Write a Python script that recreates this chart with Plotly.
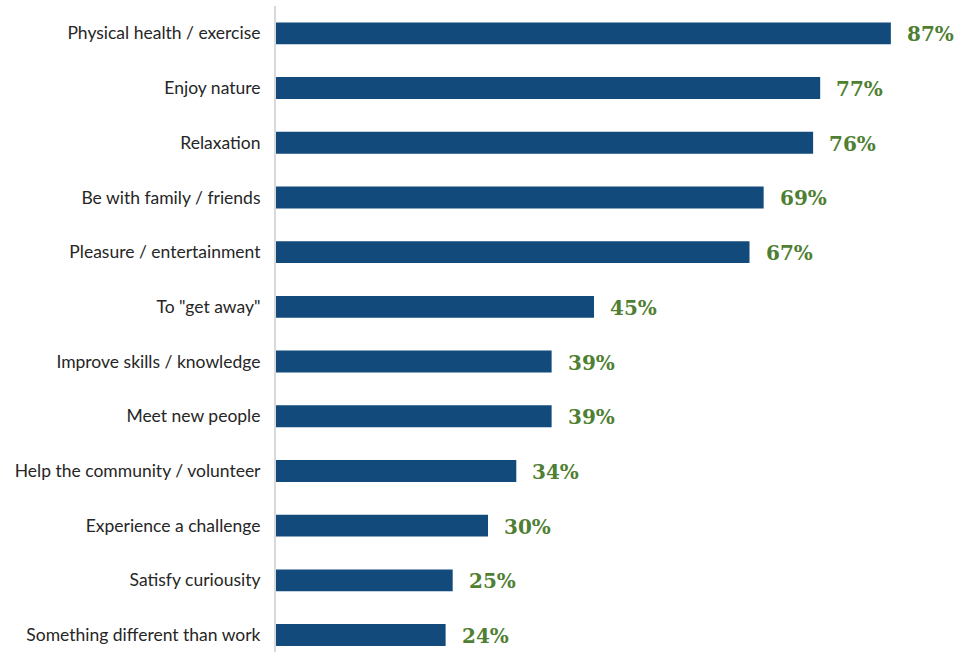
import plotly.graph_objects as go

# Reasons for participating, share of respondents (%)
categories = [
    "Physical health / exercise",
    "Enjoy nature",
    "Relaxation",
    "Be with family / friends",
    "Pleasure / entertainment",
    'To "get away"',
    "Improve skills / knowledge",
    "Meet new people",
    "Help the community / volunteer",
    "Experience a challenge",
    "Satisfy curiousity",
    "Something different than work",
]
values = [87, 77, 76, 69, 67, 45, 39, 39, 34, 30, 25, 24]
value_labels = [f"{v}%" for v in values]

BAR_COLOR = "#114A7B"
LABEL_COLOR = "#4F7F33"

fig = go.Figure(
    go.Bar(
        x=values,
        y=categories,
        orientation="h",
        marker=dict(color=BAR_COLOR, line=dict(width=0)),
        width=0.4,
        hoverinfo="skip",
    )
)

for cat, v, lab in zip(categories, values, value_labels):
    fig.add_annotation(
        x=v, y=cat, text=lab, showarrow=False,
        xanchor="left", yanchor="middle", xshift=14, yshift=-1,
        font=dict(family="DejaVu Serif", size=20, color=LABEL_COLOR, weight="bold"),
    )

fig.update_layout(
    width=958,
    height=652,
    margin=dict(l=276, r=0, t=6, b=0),
    paper_bgcolor="white",
    plot_bgcolor="white",
    showlegend=False,
    xaxis=dict(range=[0, 96.5], visible=False, fixedrange=True),
    yaxis=dict(
        categoryorder="array",
        categoryarray=categories,
        range=[11.31, -0.5],
        showline=True,
        linecolor="#D9D9D9",
        linewidth=2,
        showgrid=False,
        ticks="",
        ticklabelstandoff=10,
        tickfont=dict(family="Lato, 'Source Sans Pro', sans-serif", size=17.5, color="#262626"),
    ),
)

fig.write_html("out.html")
